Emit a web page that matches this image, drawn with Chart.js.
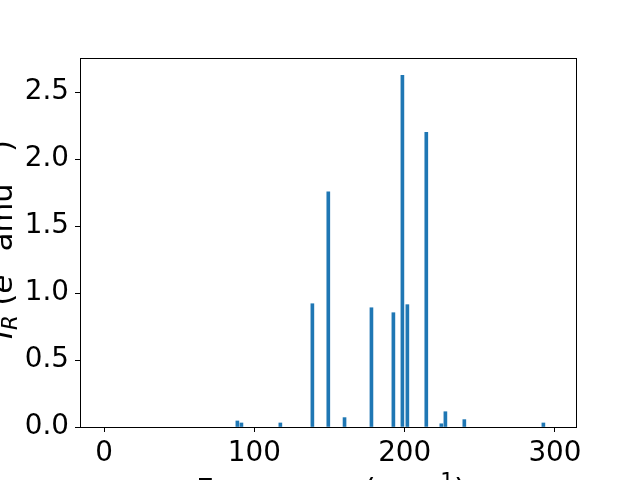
<!DOCTYPE html>
<html>
<head>
<meta charset="utf-8">
<script src="https://cdn.jsdelivr.net/npm/chart.js@4.4.0/dist/chart.umd.min.js"></script>
<style>
  html, body { margin: 0; padding: 0; background: #fff; overflow: hidden; }
  canvas { display: block; }
</style>
</head>
<body>
<canvas id="chart" width="640" height="480"></canvas>
<script>
// frequencies (cm^-1) and IR intensities
const frequencies = [88.7, 91.4, 117.3, 138.6, 149.2, 160.0, 177.9, 192.5, 198.5, 201.8, 214.4, 224.4, 227.1, 239.7, 292.3];
const intensities = [0.045, 0.03, 0.03, 0.92, 1.755, 0.07, 0.89, 0.853, 2.625, 0.913, 2.2, 0.024, 0.114, 0.055, 0.03];
const xTicks = [0, 100, 200, 300];
const yTicks = [0.0, 0.5, 1.0, 1.5, 2.0, 2.5];

const FONT = 'DejaVu Sans';
const tickFont = { family: FONT, size: 27.8 };

// draws the frame and the (partly clipped) axis titles
const decorations = {
  id: 'decorations',
  afterDraw(chart) {
    const ctx = chart.ctx;
    const a = chart.chartArea;
    ctx.save();
    ctx.strokeStyle = '#000';
    ctx.lineWidth = 1;
    ctx.strokeRect(Math.round(a.left) + 0.5, Math.round(a.top) + 0.5,
                   Math.round(a.right - a.left), Math.round(a.bottom - a.top));

    const big = '30.6px "DejaVu Sans"';
    const small = '21.4px "DejaVu Sans"';
    const bigIt = 'italic 30.6px "DejaVu Sans"';
    const smallIt = 'italic 21.4px "DejaVu Sans"';

    function drawParts(parts, cx, baseY) {
      let total = 0;
      parts.forEach(p => { ctx.font = p.f; total += ctx.measureText(p.t).width; });
      let x = cx - total / 2;
      parts.forEach(p => {
        ctx.font = p.f;
        ctx.fillText(p.t, x, baseY + (p.dy || 0));
        x += ctx.measureText(p.t).width;
      });
    }

    ctx.fillStyle = '#000';
    ctx.textBaseline = 'alphabetic';
    // x title
    const cx = (a.left + a.right) / 2;
    drawParts([
      { t: 'Frequency (', f: big },
      { t: 'cm', f: big },
      { t: '\u22121', f: small, dy: -12 },
      { t: ')', f: big }
    ], cx + 3, 500);

    // y title, rotated
    ctx.translate(12, (a.top + a.bottom) / 2 - 3);
    ctx.rotate(-Math.PI / 2);
    drawParts([
      { t: 'I', f: bigIt },
      { t: 'R', f: smallIt, dy: 5 },
      { t: ' (', f: big },
      { t: 'e', f: bigIt },
      { t: '2', f: small, dy: -12 },
      { t: ' amu', f: big },
      { t: '\u22121', f: small, dy: -12 },
      { t: ')', f: big }
    ], 0, 0);
    ctx.restore();
  }
};

new Chart(document.getElementById('chart'), {
  type: 'bar',
  data: {
    datasets: [{
      data: frequencies.map((f, i) => ({ x: f, y: intensities[i] })),
      backgroundColor: '#1f77b4',
      borderWidth: 0,
      barThickness: 3
    }]
  },
  options: {
    responsive: false,
    animation: false,
    layout: { padding: { top: 58, right: 64, left: 0, bottom: 0 } },
    plugins: { legend: { display: false }, tooltip: { enabled: false } },
    scales: {
      x: {
        type: 'linear',
        min: -16,
        max: 314,
        offset: false,
        afterBuildTicks: s => { s.ticks = xTicks.map(v => ({ value: v })); },
        afterFit: s => { s.height = 53; },
        grid: { drawOnChartArea: false, offset: false, tickLength: 5, color: '#000' },
        border: { color: '#000' },
        ticks: { color: '#000', font: tickFont, padding: 5, maxRotation: 0 }
      },
      y: {
        min: 0,
        max: 2.754,
        afterBuildTicks: s => { s.ticks = yTicks.map(v => ({ value: v })); },
        afterFit: s => { s.width = 80; },
        grid: { drawOnChartArea: false, tickLength: 5, color: '#000' },
        border: { color: '#000' },
        ticks: { color: '#000', font: tickFont, padding: 6, callback: v => v.toFixed(1) }
      }
    }
  },
  plugins: [decorations]
});
</script>
</body>
</html>
